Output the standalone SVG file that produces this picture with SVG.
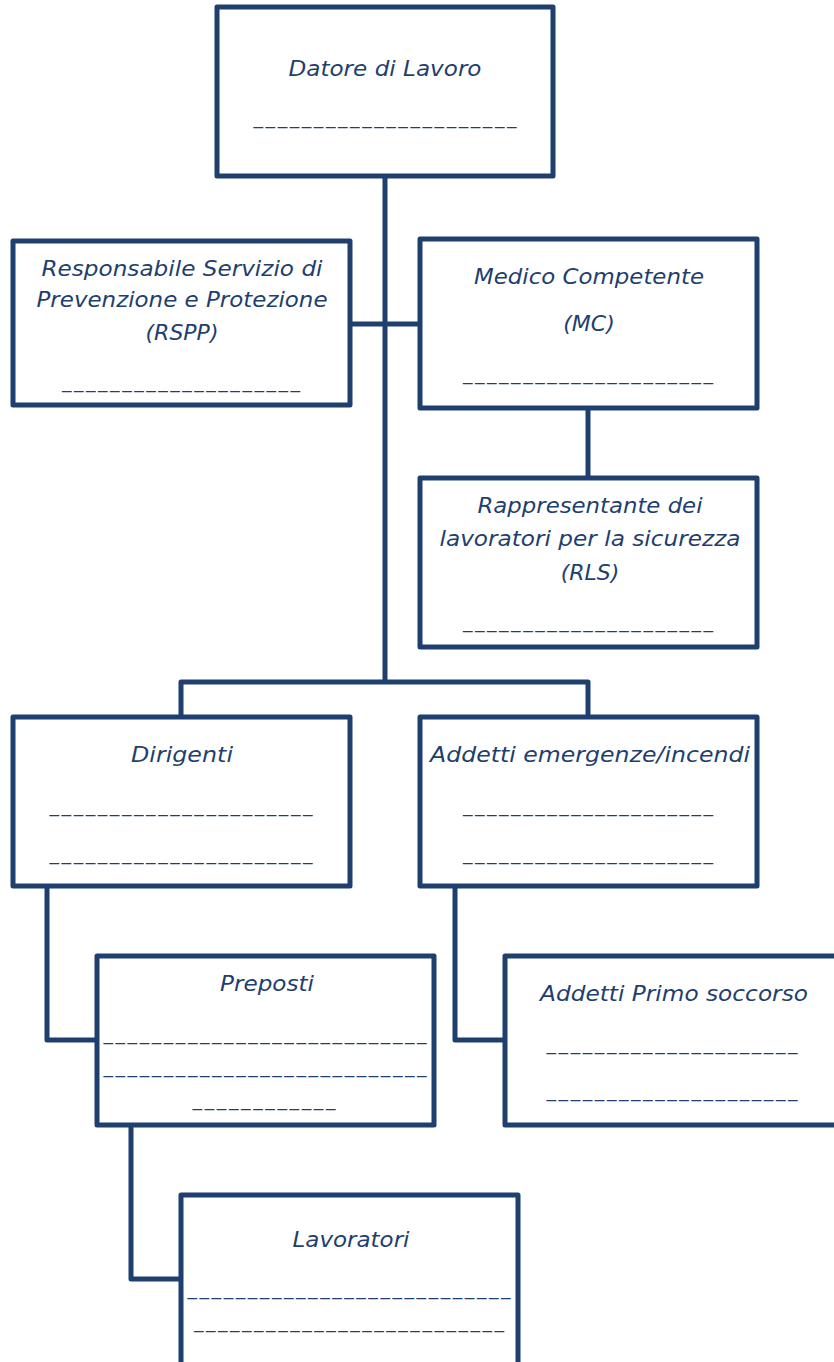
<svg xmlns="http://www.w3.org/2000/svg" width="834" height="1362" viewBox="0 0 834 1362">
<style>
.box{fill:#fff;stroke:#1f3f6e;stroke-width:5;stroke-linejoin:round}
.conn{fill:none;stroke:#1f3f6e;stroke-width:5;stroke-linejoin:round}
text{font-family:"DejaVu Sans","Verdana",sans-serif;font-style:italic;font-size:22px;fill:#1f3f6e;text-anchor:middle}
.u{font-style:normal;font-size:19px}
</style>
<rect width="834" height="1362" fill="#fff"/>
<g id="connectors">
<path class="conn" d="M385 176V682"/>
<path class="conn" d="M350 324H420"/>
<path class="conn" d="M588 408V478"/>
<path class="conn" d="M181 717V682H588V717"/>
<path class="conn" d="M47 886V1040H97"/>
<path class="conn" d="M455 886V1040H505"/>
<path class="conn" d="M131 1125V1279H181"/>
</g>
<g id="datore">
<rect class="box" x="217" y="7" width="336" height="169"/>
<text x="385" y="76" textLength="193" lengthAdjust="spacingAndGlyphs">Datore di Lavoro</text>
<text class="u" x="385" y="124" textLength="263" lengthAdjust="spacing">______________________</text>
</g>
<g id="rspp">
<rect class="box" x="13" y="241" width="337" height="164"/>
<text x="182" y="276" textLength="281" lengthAdjust="spacingAndGlyphs">Responsabile Servizio di</text>
<text x="182" y="307" textLength="291" lengthAdjust="spacingAndGlyphs">Prevenzione e Protezione</text>
<text x="182" y="340">(RSPP)</text>
<text class="u" x="181" y="388" textLength="238" lengthAdjust="spacing">____________________</text>
</g>
<g id="mc">
<rect class="box" x="420" y="239" width="337" height="169"/>
<text x="589" y="284" textLength="230" lengthAdjust="spacingAndGlyphs">Medico Competente</text>
<text x="589" y="331">(MC)</text>
<text class="u" x="588" y="380" textLength="250" lengthAdjust="spacing">_____________________</text>
</g>
<g id="rls">
<rect class="box" x="420" y="478" width="337" height="169"/>
<text x="590" y="513" textLength="225" lengthAdjust="spacingAndGlyphs">Rappresentante dei</text>
<text x="590" y="546" textLength="301" lengthAdjust="spacingAndGlyphs">lavoratori per la sicurezza</text>
<text x="590" y="580">(RLS)</text>
<text class="u" x="588" y="628" textLength="250" lengthAdjust="spacing">_____________________</text>
</g>
<g id="dirigenti">
<rect class="box" x="13" y="717" width="337" height="169"/>
<text x="182" y="762" textLength="102" lengthAdjust="spacingAndGlyphs">Dirigenti</text>
<text class="u" x="181" y="812" textLength="263" lengthAdjust="spacing">______________________</text>
<text class="u" x="181" y="860" textLength="263" lengthAdjust="spacing">______________________</text>
</g>
<g id="emergenze">
<rect class="box" x="420" y="717" width="337" height="169"/>
<text x="590" y="762" textLength="320" lengthAdjust="spacingAndGlyphs">Addetti emergenze/incendi</text>
<text class="u" x="588" y="812" textLength="250" lengthAdjust="spacing">_____________________</text>
<text class="u" x="588" y="860" textLength="250" lengthAdjust="spacing">_____________________</text>
</g>
<g id="preposti">
<rect class="box" x="97" y="956" width="337" height="169"/>
<text x="267" y="991" textLength="94" lengthAdjust="spacingAndGlyphs">Preposti</text>
<text class="u" x="265" y="1040" textLength="323" lengthAdjust="spacing">___________________________</text>
<text class="u" x="265" y="1073" textLength="323" lengthAdjust="spacing">___________________________</text>
<text class="u" x="264" y="1106" textLength="143" lengthAdjust="spacing">____________</text>
</g>
<g id="primo-soccorso">
<rect class="box" x="505" y="956" width="340" height="169"/>
<text x="674" y="1001" textLength="268" lengthAdjust="spacingAndGlyphs">Addetti Primo soccorso</text>
<text class="u" x="672" y="1050" textLength="251" lengthAdjust="spacing">_____________________</text>
<text class="u" x="672" y="1097" textLength="251" lengthAdjust="spacing">_____________________</text>
</g>
<g id="lavoratori">
<rect class="box" x="181" y="1195" width="337" height="180"/>
<text x="351" y="1247" textLength="117" lengthAdjust="spacingAndGlyphs">Lavoratori</text>
<text class="u" x="349" y="1295" textLength="323" lengthAdjust="spacing">___________________________</text>
<text class="u" x="349" y="1328" textLength="310" lengthAdjust="spacing">__________________________</text>
</g>
</svg>
